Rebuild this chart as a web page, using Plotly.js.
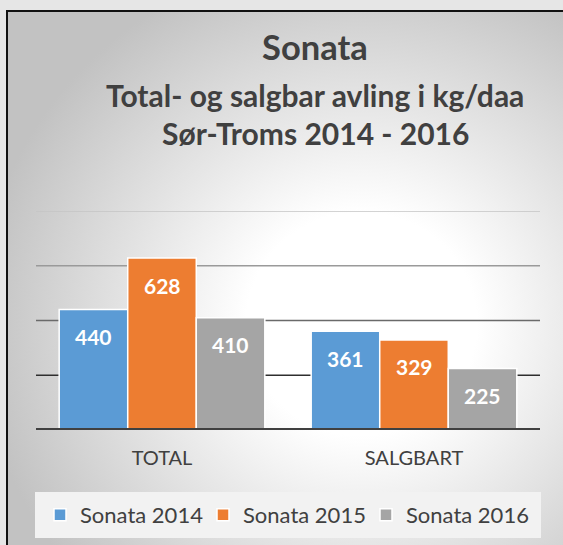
<!DOCTYPE html>
<html>
<head>
<meta charset="utf-8">
<script src="https://cdn.plot.ly/plotly-3.0.1.min.js"></script>
<style>
  html, body { margin: 0; padding: 0; width: 563px; height: 545px; overflow: hidden; background: #e6e6e6; }
  #frame { position: absolute; left: 6px; top: 10px; width: 620px; height: 600px;
           border-left: 2px solid #111; border-top: 2px solid #111;
           background: radial-gradient(ellipse 62% 62% at 57% 52%, #ffffff 0%, #ffffff 30%, #c2c2c2 100%); }
  #chart { position: absolute; left: 0; top: 0; width: 563px; height: 545px; }
</style>
</head>
<body>
<div id="frame"></div>
<div id="chart"></div>
<script>
const categories = ['TOTAL', 'SALGBART'];
const seriesNames = ['Sonata 2014', 'Sonata 2015', 'Sonata 2016'];
const sonata2014 = [440, 361];
const sonata2015 = [628, 329];
const sonata2016 = [410, 225];
const gridValues = [200, 400, 600, 800];
const titleText = 'Sonata';
const subtitleLines = ['Total- og salgbar avling i kg/daa', 'Sør-Troms 2014 - 2016'];

const seriesValues = [sonata2014, sonata2015, sonata2016];
const colors = ['#5b9bd5', '#ed7d31', '#a5a5a5'];
const gridColors = ['#2e2e2e', '#6a6a6a', '#9a9a9a', '#c4c4c4'];
const bargap = 0.184;
const font = 'Lato, "Open Sans", sans-serif';
const textColor = '#404040';

const traces = seriesValues.map((vals, i) => ({
  type: 'bar',
  name: seriesNames[i],
  x: categories,
  y: vals,
  marker: { color: colors[i], line: { color: '#ffffff', width: 1.5 } },
  hoverinfo: 'none'
}));

const barW = (1 - bargap) / seriesValues.length;
const annotations = [];
seriesValues.forEach((vals, i) => {
  vals.forEach((v, j) => {
    annotations.push({
      xref: 'x', yref: 'y',
      x: j + (i - (seriesValues.length - 1) / 2) * barW,
      y: v,
      yanchor: 'middle',
      yshift: -27,
      text: String(v),
      showarrow: false,
      font: { family: font, size: 21, color: '#ffffff', weight: 700 }
    });
  });
});
const subtitleY = [95, 133];
subtitleLines.forEach((line, k) => {
  annotations.push({
    xref: 'paper', yref: 'paper',
    x: (315 - 36) / 504,
    y: (430 - subtitleY[k]) / 219,
    xanchor: 'center', yanchor: 'middle',
    text: line,
    showarrow: false,
    font: { family: font, size: 30, color: textColor, weight: 700 }
  });
});

const shapes = [];
shapes.push({
  type: 'rect', xref: 'paper', yref: 'paper',
  x0: -0.002, x1: 1.002, y0: (430 - 492) / 219, y1: (430 - 538) / 219,
  fillcolor: '#f2f2f2', line: { width: 0 }, layer: 'below'
});
gridValues.forEach((g, k) => {
  shapes.push({
    type: 'line', xref: 'paper', yref: 'y',
    x0: 0, x1: 1, y0: g, y1: g,
    line: { color: gridColors[k], width: 1.5 }, layer: 'below'
  });
});
shapes.push({
  type: 'line', xref: 'paper', yref: 'y',
  x0: 0, x1: 1, y0: 0, y1: 0,
  line: { color: '#404040', width: 4 }, layer: 'above'
});

const layout = {
  width: 563, height: 545, autosize: false,
  margin: { l: 36, r: 23, t: 211, b: 115, pad: 0, autoexpand: false },
  paper_bgcolor: 'rgba(0,0,0,0)',
  plot_bgcolor: 'rgba(0,0,0,0)',
  font: { family: font, color: textColor },
  title: {
    text: titleText,
    font: { family: font, size: 34.5, color: textColor, weight: 700 },
    xref: 'container', yref: 'container',
    x: 315 / 563, xanchor: 'center',
    y: 1 - 48 / 545, yanchor: 'middle'
  },
  barmode: 'group',
  bargap: bargap,
  bargroupgap: 0,
  xaxis: {
    type: 'category',
    showline: false, showgrid: false, zeroline: false, ticks: '',
    tickfont: { family: font, size: 20, color: textColor },
    ticklabelstandoff: 14,
    fixedrange: true
  },
  yaxis: {
    range: [0, 800],
    showgrid: false, zeroline: false, showticklabels: false, showline: false, ticks: '',
    fixedrange: true
  },
  showlegend: true,
  legend: {
    orientation: 'h',
    x: (40 - 36) / 504, xanchor: 'left',
    y: (430 - 515) / 219, yanchor: 'middle',
    entrywidth: 118, entrywidthmode: 'pixels',
    bgcolor: 'rgba(0,0,0,0)',
    font: { family: font, size: 22, color: textColor },
    traceorder: 'normal'
  },
  annotations: annotations,
  shapes: shapes
};

Plotly.newPlot('chart', traces, layout, { displayModeBar: false, staticPlot: true });
</script>
</body>
</html>
